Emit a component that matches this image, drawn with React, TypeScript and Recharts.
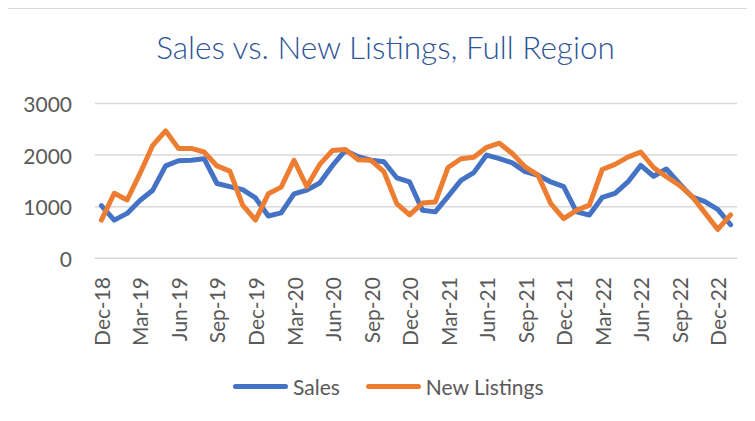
import { LineChart, Line, XAxis, YAxis, CartesianGrid, Legend } from "recharts"

const months = [
  "Dec-18", "Jan-19", "Feb-19", "Mar-19", "Apr-19", "May-19", "Jun-19", "Jul-19", "Aug-19", "Sep-19", "Oct-19", "Nov-19",
  "Dec-19", "Jan-20", "Feb-20", "Mar-20", "Apr-20", "May-20", "Jun-20", "Jul-20", "Aug-20", "Sep-20", "Oct-20", "Nov-20",
  "Dec-20", "Jan-21", "Feb-21", "Mar-21", "Apr-21", "May-21", "Jun-21", "Jul-21", "Aug-21", "Sep-21", "Oct-21", "Nov-21",
  "Dec-21", "Jan-22", "Feb-22", "Mar-22", "Apr-22", "May-22", "Jun-22", "Jul-22", "Aug-22", "Sep-22", "Oct-22", "Nov-22",
  "Dec-22", "Jan-23",
]

const sales = [
  1020, 740, 870, 1120, 1320, 1790, 1890, 1900, 1930, 1450, 1390, 1330,
  1170, 820, 880, 1250, 1320, 1460, 1800, 2090, 1970, 1900, 1870, 1560,
  1480, 930, 900, 1200, 1510, 1660, 2000, 1930, 1850, 1680, 1610, 1480,
  1390, 900, 840, 1180, 1260, 1480, 1800, 1590, 1730, 1450, 1190, 1100,
  950, 650,
]

const newListings = [
  740, 1260, 1130, 1640, 2190, 2470, 2130, 2130, 2060, 1790, 1690, 1030,
  740, 1250, 1380, 1900, 1390, 1820, 2090, 2110, 1910, 1900, 1680, 1060,
  840, 1070, 1090, 1760, 1930, 1960, 2150, 2230, 2030, 1770, 1610, 1060,
  770, 930, 1030, 1720, 1820, 1960, 2060, 1760, 1580, 1420, 1200, 880,
  560, 840,
]

const yTicks = [0, 1000, 2000, 3000]

const seriesList = [
  { key: "sales", name: "Sales", color: "#4472C4" },
  { key: "newListings", name: "New Listings", color: "#ED7D31" },
]

const data = months.map((m, i) => ({ month: m, sales: sales[i], newListings: newListings[i] }))

const FONT = "Lato, sans-serif"
const TEXT = "#595959"

function XTick({ x, payload }: any) {
  const y = 277
  return (
    <text
      x={x}
      y={y}
      transform={`rotate(-90 ${x} ${y})`}
      textAnchor="end"
      dominantBaseline="central"
      fontSize={21}
      fill={TEXT}
      fontFamily={FONT}
    >
      {payload.value}
    </text>
  )
}

function YTick({ y, payload }: any) {
  return (
    <text x={72} y={y} textAnchor="end" dominantBaseline="central" fontSize={21} fill={TEXT} fontFamily={FONT}>
      {payload.value}
    </text>
  )
}

function LegendContent() {
  return (
    <div style={{ display: "flex", alignItems: "center", height: 30, paddingLeft: 233, fontFamily: FONT, fontSize: 21, color: TEXT }}>
      {seriesList.map((s, i) => (
        <div key={s.key} style={{ display: "flex", alignItems: "center", marginLeft: i > 0 ? 26 : 0 }}>
          <span style={{ display: "inline-block", width: 55, height: 5, borderRadius: 3, background: s.color, marginRight: 5 }} />
          <span>{s.name}</span>
        </div>
      ))}
    </div>
  )
}

export default function App() {
  return (
    <div style={{ position: "relative", width: 755, height: 421, margin: -8, overflow: "hidden", background: "#fff" }}>
      <div style={{ position: "absolute", left: 6, top: 7, width: 800, height: 500, border: "2px solid #dadada" }} />
      <div
        style={{
          position: "absolute",
          left: 0,
          top: 32,
          width: 771,
          textAlign: "center",
          fontFamily: FONT,
          fontWeight: 300,
          fontSize: 31.5,
          lineHeight: "31.5px",
          color: "#2F5597",
          whiteSpace: "nowrap",
        }}
      >
        Sales vs. New Listings, Full Region
      </div>
      <div style={{ position: "absolute", left: 0, top: 0 }}>
        <LineChart width={755} height={421} data={data} margin={{ top: 103.5, right: 18, bottom: 72.7, left: 0 }}>
          <CartesianGrid vertical={false} stroke="#d9d9d9" strokeWidth={1.5} />
          <XAxis
            dataKey="month"
            interval={2}
            axisLine={false}
            tickLine={false}
            padding={{ left: 6.4, right: 6.4 }}
            height={90}
            tick={<XTick />}
          />
          <YAxis
            domain={[0, 3000]}
            ticks={yTicks}
            axisLine={false}
            tickLine={false}
            width={95}
            tick={<YTick />}
          />
          {seriesList.map((s) => (
            <Line
              key={s.key}
              type="linear"
              dataKey={s.key}
              name={s.name}
              stroke={s.color}
              strokeWidth={5}
              strokeLinejoin="round"
              strokeLinecap="round"
              dot={false}
              isAnimationActive={false}
            />
          ))}
          <Legend
            layout="horizontal"
            verticalAlign="middle"
            align="center"
            content={<LegendContent />}
            wrapperStyle={{ top: 371, left: 0, width: 755, height: 30 }}
          />
        </LineChart>
      </div>
    </div>
  )
}
